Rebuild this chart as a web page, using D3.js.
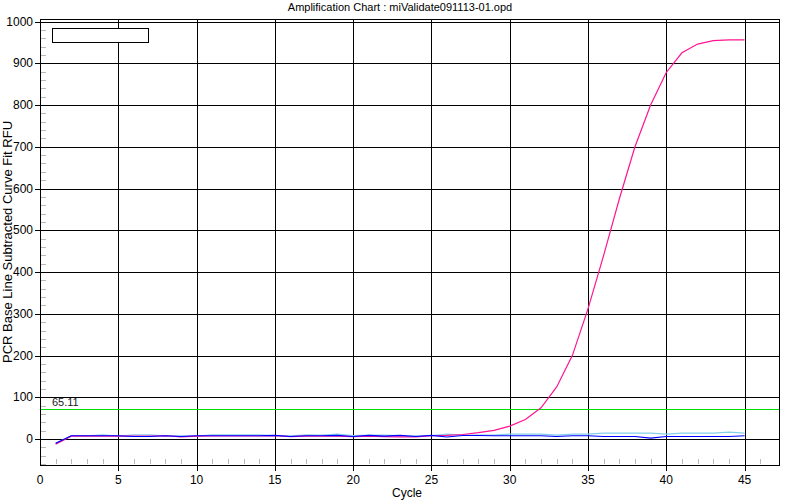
<!DOCTYPE html>
<html>
<head>
<meta charset="utf-8">
<script src="https://cdn.jsdelivr.net/npm/d3@7"></script>
<style>
  html, body { margin: 0; padding: 0; background: #fff; }
  svg { display: block; font-family: "Liberation Sans", Arial, sans-serif; }
</style>
</head>
<body>
<svg id="chart" width="800" height="500"></svg>
<script>
const chartTitle = "Amplification Chart : miValidate091113-01.opd";
const xAxisLabel = "Cycle";
const yAxisLabel = "PCR Base Line Subtracted Curve Fit RFU";
const xTickValues = [0, 5, 10, 15, 20, 25, 30, 35, 40, 45];
const yTickValues = [0, 100, 200, 300, 400, 500, 600, 700, 800, 900, 1000];
const thresholdValue = 72;
const thresholdLabel = "65.11";

const cycles = [1,2,3,4,5,6,7,8,9,10,11,12,13,14,15,16,17,18,19,20,21,22,23,24,25,26,27,28,29,30,31,32,33,34,35,36,37,38,39,40,41,42,43,44,45];

const lightBlueSeries = [-10,8,8,10.3,7,10.3,10.3,8,8,7,10.3,10.3,10.3,10.3,8.7,8,10.3,9.5,12,8.7,9.5,9.5,8.7,8,8.7,12,9.5,9.5,9.5,12,12,12,9.5,12,12,14.3,14.3,14.3,14.3,12,14.3,14.3,14.3,16.7,14.3];

const pinkSeries = [-12,7,7,7.5,7,7,7,8,5.5,7,7.5,7.5,7.5,7.5,8,6,7,7,7,6,7,6,5.5,5.5,8,9,11,15.5,21,31,47,75,125,200,312,440,575,700,800,878,925,946,954,956,956];

const blueSeries = [-10,8,8,8,8,6.3,6.3,8,6.3,8,8,8,8,8,8.7,6.3,8,8,8.7,6.3,8.7,7,8.7,6.3,8.7,5,8.7,8.7,8,8,8,8,6.3,8,8,6.3,6.3,6.3,2.3,6.3,6.3,6.3,6.3,6.3,8];

(function () {
const svg = d3.select("#chart");
const pLeft = 40, pRight = 779, pTop = 19, pBottom = 465;

const x = d3.scaleLinear().domain([0, 47.2]).range([pLeft, pRight]);
const y = d3.scaleLinear().domain([-62, 1006]).range([pBottom, pTop]);

// title
svg.append("text").attr("x", 400).attr("y", 11).attr("text-anchor", "middle")
  .attr("font-size", 11).attr("fill", "#000").text(chartTitle);

// minor ticks
const xMinor = d3.range(1, 47).filter(v => v % 5 !== 0);
svg.append("g").selectAll("line").data(xMinor).join("line")
  .attr("x1", d => Math.round(x(d)) + 0.5).attr("x2", d => Math.round(x(d)) + 0.5)
  .attr("y1", pBottom - 6).attr("y2", pBottom - 1)
  .attr("stroke", "#b8b8b8").attr("stroke-width", 1).attr("shape-rendering", "crispEdges");
const yMinor = d3.range(-60, 1000, 20).filter(v => v % 100 !== 0);
svg.append("g").selectAll("line").data(yMinor).join("line")
  .attr("x1", pLeft + 1).attr("x2", pLeft + 6)
  .attr("y1", d => Math.round(y(d)) + 0.5).attr("y2", d => Math.round(y(d)) + 0.5)
  .attr("stroke", "#b8b8b8").attr("stroke-width", 1).attr("shape-rendering", "crispEdges");

// grid lines
svg.append("g").selectAll("line").data(xTickValues.filter(v => v > 0)).join("line")
  .attr("x1", d => Math.round(x(d)) + 0.5).attr("x2", d => Math.round(x(d)) + 0.5)
  .attr("y1", pTop).attr("y2", pBottom + 6)
  .attr("stroke", "#000").attr("shape-rendering", "crispEdges");
svg.append("g").selectAll("line").data(yTickValues).join("line")
  .attr("x1", pLeft - 5).attr("x2", pRight)
  .attr("y1", d => Math.round(y(d)) + 0.5).attr("y2", d => Math.round(y(d)) + 0.5)
  .attr("stroke", "#000").attr("shape-rendering", "crispEdges");

// border
svg.append("rect").attr("x", pLeft + 0.5).attr("y", pTop + 0.5)
  .attr("width", pRight - pLeft).attr("height", pBottom - pTop)
  .attr("fill", "none").attr("stroke", "#000").attr("shape-rendering", "crispEdges");

// tick labels
svg.append("g").selectAll("text").data(xTickValues).join("text")
  .attr("x", d => x(d)).attr("y", 484).attr("text-anchor", "middle")
  .attr("font-size", 12).attr("fill", "#000").text(d => d);
svg.append("g").selectAll("text").data(yTickValues).join("text")
  .attr("x", 33).attr("y", d => y(d) + 4).attr("text-anchor", "end")
  .attr("font-size", 12).attr("fill", "#000").text(d => d);

// axis labels
svg.append("text").attr("x", 407).attr("y", 497).attr("text-anchor", "middle")
  .attr("font-size", 12).attr("fill", "#000").text(xAxisLabel);
svg.append("text").attr("transform", `translate(12, ${(pTop + pBottom) / 2}) rotate(-90)`)
  .attr("text-anchor", "middle").attr("font-size", 13).attr("fill", "#000").text(yAxisLabel);

// threshold
svg.append("line").attr("x1", pLeft + 1).attr("x2", pRight)
  .attr("y1", Math.round(y(thresholdValue)) + 0.5).attr("y2", Math.round(y(thresholdValue)) + 0.5)
  .attr("stroke", "#00dd00").attr("shape-rendering", "crispEdges");
svg.append("text").attr("x", 52).attr("y", y(thresholdValue) - 3)
  .attr("font-size", 11).attr("fill", "#222").text(thresholdLabel);

// legend box (empty)
svg.append("rect").attr("x", 52.5).attr("y", 28.5).attr("width", 96).attr("height", 14)
  .attr("fill", "#fff").attr("stroke", "#000").attr("shape-rendering", "crispEdges");

// series
const line = d3.line().x((d, i) => x(cycles[i])).y(d => y(d));
const series = [
  { values: lightBlueSeries, color: "#87ceeb" },
  { values: pinkSeries, color: "#ff1493" },
  { values: blueSeries, color: "#0000ff" }
];
svg.append("g").selectAll("path").data(series).join("path")
  .attr("d", d => line(d.values))
  .attr("fill", "none").attr("stroke", d => d.color).attr("stroke-width", 1.2);
})();
</script>
</body>
</html>
